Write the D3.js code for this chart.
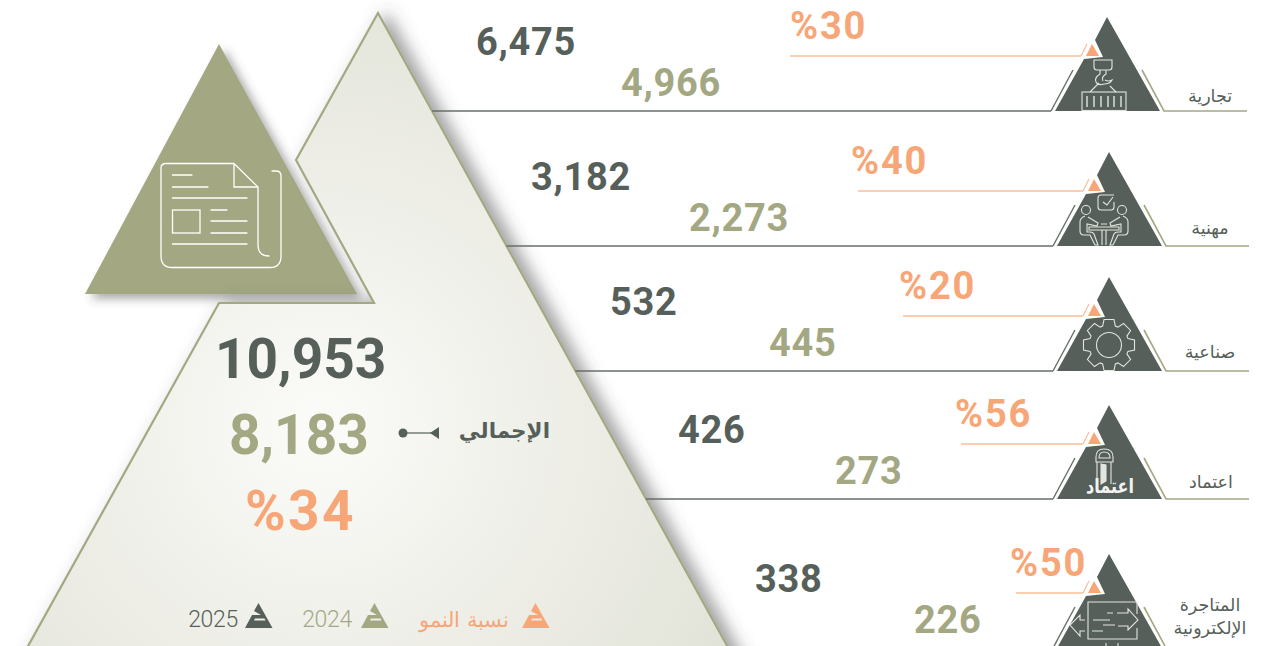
<!DOCTYPE html>
<html lang="ar">
<head>
  <meta charset="UTF-8">
  <title>Growth by licence type</title>
  <style>
    html, body { margin: 0; padding: 0; background: #fff; overflow: hidden; }
    svg { display: block; }
    .num { font-family: Roboto, sans-serif; font-weight: 700; }
    .ar { font-family: "DejaVu Sans", sans-serif; }
  </style>
</head>
<body>
  <svg width="1261" height="646"></svg>
  <script src="https://d3js.org/d3.v7.min.js"></script>
  <script>
    // data
    const categories = ["تجارية", "مهنية", "صناعية", "اعتماد", "المتاجرة الإلكترونية"];
    const values2025 = [6475, 3182, 532, 426, 338];
    const values2024 = [4966, 2273, 445, 273, 226];
    const growth = [30, 40, 20, 56, 50];
    const total2025 = 10953;
    const total2024 = 8183;
    const totalGrowth = 34;
    const totalLabel = "الإجمالي";
    const legendLabels = ["2025", "2024", "نسبة النمو"];

    // layout, row by row
    const width = 1261, height = 646;
    const dark = "#565f59", olive = "#a3a883", orange = "#f7a677", orangeLight = "#fbbf98";
    const rowBase = d3.scaleOrdinal(categories, [111, 246, 371, 499, 648]);
    const rowApex = d3.scaleOrdinal(categories, [1107, 1109, 1109, 1109, 1109]);
    const x2025 = d3.scaleOrdinal(categories, [476, 531, 610, 678, 755]);
    const x2024 = d3.scaleOrdinal(categories, [621, 689, 769, 835, 914]);
    const xGrowth = d3.scaleOrdinal(categories, [790, 851, 899, 955, 1010]);
    const xRule = d3.scaleOrdinal(categories, [790, 858, 903, 961, 1016]);
    const fmt = d3.format(",");
    const bigEdge = d3.scaleLinear().domain([13, 646]).range([378, 727]);

    const svg = d3.select("svg");
    const defs = svg.append("defs");

    const grad = defs.append("radialGradient").attr("id", "bigFill")
      .attr("gradientUnits", "userSpaceOnUse")
      .attr("cx", 320).attr("cy", 425).attr("r", 460);
    grad.append("stop").attr("offset", 0).attr("stop-color", "#fbfbf9");
    grad.append("stop").attr("offset", 0.45).attr("stop-color", "#f0f0ea");
    grad.append("stop").attr("offset", 1).attr("stop-color", "#e2e3d8");

    const f1 = defs.append("filter").attr("id", "bigShadow")
      .attr("x", "-10%").attr("y", "-10%").attr("width", "120%").attr("height", "120%");
    f1.append("feDropShadow").attr("dx", 9).attr("dy", 0).attr("stdDeviation", 8)
      .attr("flood-color", "#444").attr("flood-opacity", 0.5);
    const f2 = defs.append("filter").attr("id", "smallShadow")
      .attr("x", "-15%").attr("y", "-15%").attr("width", "130%").attr("height", "130%");
    f2.append("feDropShadow").attr("dx", 6).attr("dy", 5).attr("stdDeviation", 5)
      .attr("flood-color", "#444").attr("flood-opacity", 0.45);

    // small olive triangle with the document icon
    svg.append("path")
      .attr("d", "M219,44L357,294L85,294Z")
      .attr("fill", olive)
      .attr("filter", "url(#smallShadow)");

    // big pale triangle, notched around the small one (runs off the bottom of the page)
    svg.append("path")
      .attr("d", "M378,13L296,160L374,303L219,303L-2,700L757,700Z")
      .attr("fill", "url(#bigFill)")
      .attr("stroke", olive)
      .attr("stroke-width", 2.2)
      .attr("filter", "url(#bigShadow)");

    const doc = svg.append("g").attr("fill", "none").attr("stroke", "#fff")
      .attr("stroke-width", 1.3).attr("stroke-linecap", "round");
    doc.append("path").attr("d",
      "M234,163.5H166Q161,163.5 161,168V256Q161,267.5 172,267.5H270Q281,267.5 281,256V176Q281,171 276,171H272" +
      "M234,163.5L258,187V245Q258,256 269,256" +
      "M234,163.5V187H258" +
      "M172.5,175H192M172.5,187H208M172.5,198H247M211,210H227M211,221H247M211,233H247M172.5,244H247");
    doc.append("rect").attr("x", 172.5).attr("y", 210).attr("width", 27.5).attr("height", 23);

    // rows
    const rows = svg.selectAll("g.row").data(categories).join("g").attr("class", "row");

    rows.append("line")
      .attr("x1", d => bigEdge(rowBase(d)))
      .attr("x2", d => rowApex(d) - 56)
      .attr("y1", d => rowBase(d)).attr("y2", d => rowBase(d))
      .attr("stroke", "#676e69").attr("stroke-width", 1.6);

    rows.append("text").attr("class", "num")
      .attr("x", d => x2025(d)).attr("y", d => rowBase(d) - 56)
      .attr("font-size", 38).attr("letter-spacing", 0.7).attr("fill", dark)
      .text((d, i) => fmt(values2025[i]));

    rows.append("text").attr("class", "num")
      .attr("x", d => x2024(d)).attr("y", d => rowBase(d) - 15)
      .attr("font-size", 38).attr("letter-spacing", 0.7).attr("fill", olive)
      .text((d, i) => fmt(values2024[i]));

    rows.append("text").attr("class", "num")
      .attr("x", d => xGrowth(d)).attr("y", d => rowBase(d) - 72)
      .attr("font-size", 38).attr("letter-spacing", 1.8).attr("fill", orange)
      .text((d, i) => "%" + growth[i]);

    rows.append("line")
      .attr("x1", d => xRule(d)).attr("x2", d => rowApex(d) - 26)
      .attr("y1", d => rowBase(d) - 55).attr("y2", d => rowBase(d) - 55)
      .attr("stroke", orangeLight).attr("stroke-width", 1.3);

    const badge = rows.append("g")
      .attr("transform", d => `translate(${rowApex(d)},${rowBase(d)})`);

    badge.append("path").attr("d", "M-26,-55L-20,-67").attr("fill", "none")
      .attr("stroke", orangeLight).attr("stroke-width", 1.3);
    badge.append("path").attr("d", "M0,-94L53,0L-52,0L-23,-52L-4,-54L-12,-71Z").attr("fill", dark);
    badge.append("path").attr("d", "M-15,-67L-8,-55L-21,-55Z").attr("fill", orange);
    badge.append("path").attr("d", "M-56,0L-34,-41").attr("fill", "none")
      .attr("stroke", "#676e69").attr("stroke-width", 1.4);
    badge.append("path").attr("d", "M35,-41L57,0H140").attr("fill", "none")
      .attr("stroke", olive).attr("stroke-width", 1.6);

    const icons = badge.append("g").attr("fill", "none").attr("stroke", "#e3e5e1")
      .attr("stroke-width", 1.1);

    // crane and container
    const crane = d3.select(icons.nodes()[0]);
    crane.append("path").attr("d",
      "M-13,-51H5V-44Q5,-41 2,-41H-10Q-13,-41 -13,-44Z" +
      "M-7,-41V-37Q-13,-33 -11,-29Q-9,-25 -3,-27Q3,-27 5,-31Q1,-29 -2,-31" +
      "M-1,-41V-37Q-6,-34 -4,-30" +
      "M-17,-19L-8,-28M9,-19L3,-25");
    crane.append("rect").attr("x", -25).attr("y", -19).attr("width", 44).attr("height", 18.5);
    crane.append("path").attr("stroke-width", 1.4)
      .attr("d", "M-20,-15V-4M-13,-15V-4M-6,-15V-4M1,-15V-4M7,-15V-4M14,-15V-4");

    // two people at a table with a checklist
    const meet = d3.select(icons.nodes()[1]);
    meet.append("path").attr("d",
      "M5,-51H-8Q-11,-51 -11,-48V-39Q-11,-36 -8,-36H2Q5,-36 5,-39V-44M-6,-44L-2,-41L4,-49");
    meet.append("circle").attr("cx", -23).attr("cy", -36).attr("r", 4.5);
    meet.append("circle").attr("cx", 13).attr("cy", -36).attr("r", 4.5);
    const person = "M-24,-30Q-29,-28 -29,-24V-15Q-29,-11 -25,-11H-19L-14,-1H-11L-15,-12Q-16,-14 -19,-14H-22V-22L-12,-20L-11,-23L-21,-29";
    meet.append("path").attr("d", person);
    meet.append("path").attr("d", person).attr("transform", "translate(-10,0) scale(-1,1)");
    meet.append("path").attr("d", "M-20,-19H10V-16H-20ZM-7,-16V-1M-3,-16V-1M-8,-22H-2");

    // gear
    const gear = d3.select(icons.nodes()[2]);
    const teeth = d3.range(8).flatMap(k => {
      const a = k * Math.PI / 4, s = 0.24;
      return [[20, a - s * 1.35], [26, a - s * 0.8], [26, a + s * 0.8], [20, a + s * 1.35]];
    });
    gear.append("path")
      .attr("transform", "translate(0,-26)")
      .attr("d", d3.lineRadial().angle(p => p[1]).radius(p => p[0]).curve(d3.curveLinearClosed)(teeth));
    gear.append("circle").attr("cy", -26).attr("r", 12.5);

    // door and logo word
    const door = d3.select(icons.nodes()[3]);
    door.append("path").attr("d",
      "M-13,-37V-42Q-13,-50 -5,-50Q4,-50 4,-42V-37Z" +
      "M-10,-41Q-10,-47 -5,-47Q1,-47 1,-41Z" +
      "M-13,-37H4M-12,-37V-17M2,-37V-15");
    door.append("path").attr("d", "M-8,-35L-3,-34V-18L-8,-15Z")
      .attr("fill", "#e3e5e1");
    door.append("text").attr("class", "ar")
      .attr("transform", "translate(1,-6) scale(0.94,1.2)")
      .attr("text-anchor", "middle")
      .attr("font-size", 17).attr("font-weight", 700)
      .attr("fill", "#f2f3f0").attr("stroke", "none")
      .text("اعتماد");

    // online store box and arrows
    const shop = d3.select(icons.nodes()[4]);
    shop.append("path").attr("d",
      "M28,-34V-46H-21V-9H28V-20" +
      "M-24,-28H-29V-33L-39,-23L-29,-12V-17H-24" +
      "M-2,-35H4M8,-35H19V-39L29,-28L19,-18V-22H9" +
      "M-16,-28H1M-6,-23H6M-17,-17H-6");
    shop.append("path").attr("d", "M-3,-5V0M9,-5V0");

    // category names
    const labelX = d3.scaleOrdinal(categories, [1210, 1210, 1210, 1211, 1210]);
    const labelY = d3.scaleOrdinal(categories, [102, 234, 358, 488, 611]);
    const labels = rows.append("text").attr("class", "ar")
      .attr("text-anchor", "middle")
      .attr("font-size", 17.5).attr("fill", dark);
    labels.selectAll("tspan")
      .data(d => d.split(" ").map(w => ({ w, d })))
      .join("tspan")
      .attr("x", p => labelX(p.d))
      .attr("y", (p, i) => labelY(p.d) + i * 23)
      .text(p => p.w);

    // totals
    svg.append("text").attr("class", "num").attr("x", 215).attr("y", 378)
      .attr("font-size", 55).attr("fill", dark).text(fmt(total2025));
    svg.append("text").attr("class", "num").attr("x", 229).attr("y", 454)
      .attr("font-size", 55).attr("fill", olive).text(fmt(total2024));
    svg.append("text").attr("class", "num").attr("x", 245).attr("y", 530)
      .attr("font-size", 55).attr("letter-spacing", 2.4).attr("fill", orange).text("%" + totalGrowth);

    svg.append("text").attr("class", "ar").attr("x", 550).attr("y", 438)
      .attr("text-anchor", "end").attr("font-size", 21.5).attr("font-weight", 700)
      .attr("fill", dark).text(totalLabel);
    svg.append("circle").attr("cx", 403).attr("cy", 433).attr("r", 4.5).attr("fill", dark);
    svg.append("line").attr("x1", 403).attr("x2", 432).attr("y1", 433).attr("y2", 433)
      .attr("stroke", dark).attr("stroke-width", 1.2);
    svg.append("path").attr("d", "M430,433L439,427V439Z").attr("fill", dark);

    // legend
    const legendColor = d3.scaleOrdinal(legendLabels, [dark, olive, orange]);
    const logoX = d3.scaleOrdinal(legendLabels, [245, 361, 522]);
    const textEnd = d3.scaleOrdinal(legendLabels, [238, 352, 509]);
    const legend = svg.selectAll("g.legend").data(legendLabels).join("g").attr("class", "legend");

    legend.append("path")
      .attr("transform", d => `translate(${logoX(d)},603)`)
      .attr("fill-rule", "evenodd")
      .attr("d", "M13.5,0L27.5,25H0L7,12H16L9,8ZM10,15.5H19.5L20.5,17.5H9Z")
      .attr("fill", d => legendColor(d));

    legend.append("text")
      .attr("x", d => textEnd(d)).attr("y", 627)
      .attr("text-anchor", "end")
      .attr("font-family", (d, i) => i < 2 ? "Roboto, sans-serif" : '"DejaVu Sans", sans-serif')
      .attr("font-weight", 300)
      .attr("font-size", (d, i) => i < 2 ? 23 : 20.5)
      .attr("letter-spacing", (d, i) => i < 2 ? -0.3 : 0)
      .attr("fill", d => legendColor(d))
      .text(d => d);
  </script>
</body>
</html>
